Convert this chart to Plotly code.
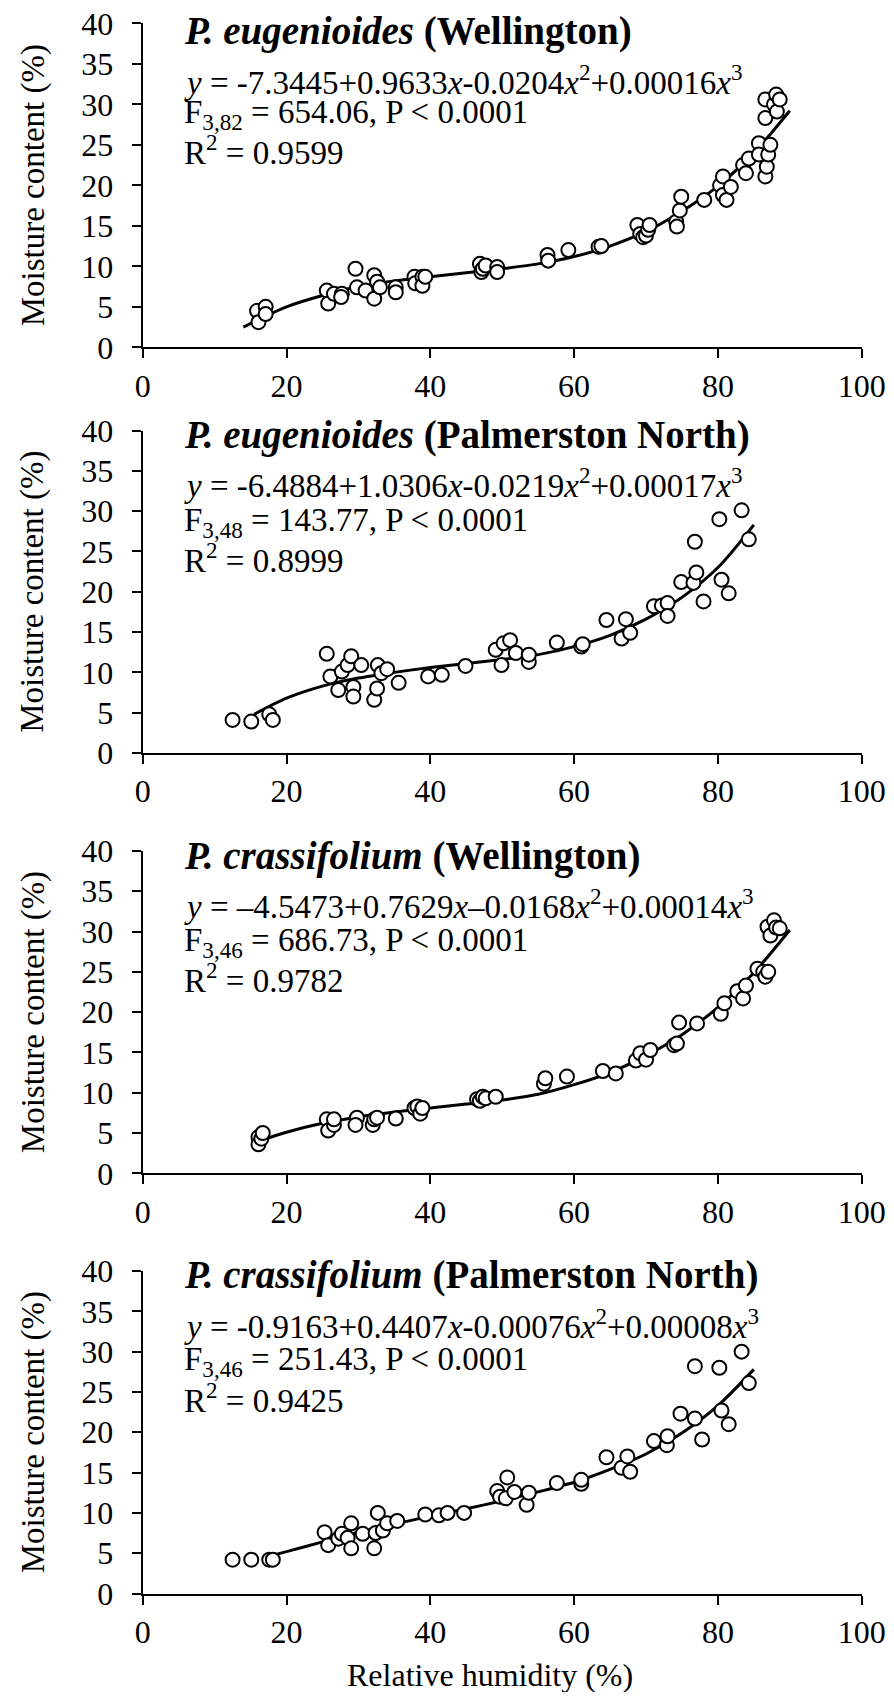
import plotly.graph_objects as go

# ---------------- data ----------------
# Panel 1: P. eugenioides (Wellington)
rh_1 = [15.9, 16.1, 17.1, 17.1, 25.6, 25.8, 26.6, 27.7, 27.6, 29.6, 29.8, 31.0, 32.2, 32.2, 32.6, 33.0,
        35.2, 35.2, 37.8, 37.9, 38.9, 38.9, 39.3, 46.9, 47.1, 47.3, 47.7, 49.3, 49.3, 56.3, 56.4, 59.2,
        63.4, 63.8, 68.8, 69.2, 69.6, 70.0, 70.3, 70.5, 74.2, 74.3, 74.7, 74.9, 78.1, 80.3, 80.7, 80.7,
        81.2, 81.8, 83.5, 83.9, 84.3, 85.7, 85.7, 86.6, 86.8, 87.0, 87.3, 86.6, 86.6, 87.8, 88.1, 88.2, 88.6]
mc_1 = [4.5, 3.1, 5.0, 4.1, 7.0, 5.4, 6.6, 6.6, 6.2, 9.7, 7.4, 7.0, 8.9, 6.0, 8.1, 7.4,
        7.4, 6.8, 8.7, 7.9, 8.7, 7.6, 8.7, 10.3, 9.3, 9.7, 10.1, 9.9, 9.3, 11.4, 10.7, 12.0,
        12.4, 12.5, 15.1, 14.0, 13.6, 13.8, 14.5, 15.1, 15.5, 14.9, 16.9, 18.6, 18.2, 20.0, 21.1, 18.8,
        18.2, 19.8, 22.5, 21.5, 23.3, 25.2, 23.8, 21.1, 22.3, 23.8, 25.0, 30.6, 28.3, 30.0, 31.2, 29.1, 30.6]
fit_x_1 = [14, 20, 25, 30, 35, 40, 45, 50, 55, 60, 65, 70, 75, 80, 85, 90]
fit_y_1 = [2.5, 5.0, 6.4, 7.5, 8.2, 8.7, 9.2, 9.7, 10.3, 11.2, 12.5, 14.3, 16.8, 19.9, 24.0, 29.2]

# Panel 2: P. eugenioides (Palmerston North)
rh_2 = [12.5, 15.1, 17.6, 18.1, 25.6, 26.1, 27.2, 27.7, 28.5, 29.0, 29.3, 29.3, 30.4, 32.2, 32.6, 32.7,
        33.2, 34.0, 35.6, 39.7, 41.6, 44.9, 49.1, 49.9, 50.2, 51.1, 51.9, 53.7, 53.7, 57.6, 61.0, 61.2,
        64.5, 66.6, 67.2, 67.8, 71.1, 72.2, 73.0, 73.0, 74.9, 76.6, 76.8, 77.0, 78.0, 80.2, 80.5, 81.5,
        83.3, 84.3]
mc_2 = [4.1, 3.9, 4.8, 4.1, 12.3, 9.5, 7.8, 10.1, 10.9, 12.0, 8.2, 7.0, 10.9, 6.6, 8.0, 10.9,
        9.9, 10.4, 8.7, 9.5, 9.7, 10.8, 12.8, 10.9, 13.6, 14.0, 12.4, 11.3, 12.2, 13.7, 13.2, 13.5,
        16.5, 14.2, 16.6, 14.9, 18.2, 18.3, 18.6, 17.0, 21.2, 21.1, 26.2, 22.4, 18.8, 29.0, 21.5, 19.8,
        30.1, 26.5]
fit_x_2 = [15.5, 20, 25, 30, 35, 40, 45, 50, 55, 60, 65, 70, 75, 80, 85]
fit_y_2 = [4.8, 6.8, 8.3, 9.3, 10.0, 10.6, 11.1, 11.6, 12.2, 13.2, 14.6, 16.6, 19.3, 23.0, 28.3]

# Panel 3: P. crassifolium (Wellington)
rh_3 = [16.1, 16.1, 16.5, 16.7, 25.6, 25.8, 26.6, 26.6, 29.8, 29.6, 32.0, 32.2, 32.6, 35.2, 37.8, 38.2,
        38.6, 38.9, 46.5, 46.9, 47.3, 47.7, 49.1, 55.8, 56.0, 59.0, 64.0, 65.8, 68.6, 69.2, 70.0, 70.6,
        73.9, 74.3, 74.6, 77.1, 80.4, 80.9, 82.7, 83.5, 83.9, 85.5, 86.3, 86.6, 87.0, 86.9, 87.3, 87.8,
        88.1, 88.6]
mc_3 = [4.5, 3.6, 4.3, 5.0, 6.7, 5.3, 6.0, 6.7, 6.9, 6.0, 6.0, 6.7, 6.9, 6.8, 8.1, 8.3,
        7.4, 8.1, 9.2, 9.0, 9.5, 9.3, 9.5, 11.1, 11.8, 12.0, 12.7, 12.4, 14.0, 14.9, 14.1, 15.3,
        15.9, 16.1, 18.7, 18.6, 19.8, 21.1, 22.6, 21.7, 23.3, 25.4, 25.0, 24.4, 25.0, 30.6, 29.5, 31.4,
        30.5, 30.4]
fit_x_3 = [16.5, 20, 25, 30, 35, 40, 45, 50, 55, 60, 65, 70, 75, 80, 85, 90]
fit_y_3 = [4.1, 5.1, 6.2, 7.0, 7.6, 8.1, 8.6, 9.1, 9.8, 11.0, 12.5, 14.6, 17.2, 20.6, 24.9, 30.2]

# Panel 4: P. crassifolium (Palmerston North)
rh_4 = [12.5, 15.1, 17.6, 18.1, 25.3, 25.8, 27.2, 27.7, 28.5, 29.0, 29.0, 30.6, 32.2, 32.4, 32.7, 33.4,
        34.0, 35.4, 39.3, 41.2, 42.4, 44.7, 49.3, 49.7, 50.5, 50.7, 51.7, 53.4, 53.7, 57.6, 61.0, 61.0,
        64.5, 66.6, 67.4, 67.8, 71.1, 72.9, 73.0, 74.8, 76.8, 76.8, 77.8, 80.2, 80.5, 81.5, 83.3, 84.3]
mc_4 = [4.2, 4.2, 4.2, 4.2, 7.6, 6.0, 6.8, 7.4, 6.9, 8.7, 5.6, 7.4, 5.6, 7.5, 10.0, 7.8,
        8.7, 9.0, 9.8, 9.7, 10.0, 10.0, 12.7, 12.0, 11.8, 14.4, 12.6, 11.0, 12.5, 13.7, 13.6, 14.1,
        16.9, 15.6, 17.0, 15.1, 18.9, 18.4, 19.5, 22.3, 21.7, 28.2, 19.1, 28.0, 22.7, 21.0, 30.0, 26.1]
fit_x_4 = [17.5, 20, 25, 30, 35, 40, 45, 50, 55, 60, 65, 70, 75, 80, 85]
fit_y_4 = [4.6, 5.2, 6.4, 7.6, 8.6, 9.6, 10.5, 11.5, 12.6, 13.8, 15.4, 17.3, 19.9, 23.3, 27.8]

titles = ["<b><i>P. eugenioides</i> (Wellington)</b>",
          "<b><i>P. eugenioides</i> (Palmerston North)</b>",
          "<b><i>P. crassifolium</i> (Wellington)</b>",
          "<b><i>P. crassifolium</i> (Palmerston North)</b>"]
equations = ["<i>y</i> = -7.3445+0.9633<i>x</i>-0.0204<i>x</i><sup>2</sup>+0.00016<i>x</i><sup>3</sup>",
             "<i>y</i> = -6.4884+1.0306<i>x</i>-0.0219<i>x</i><sup>2</sup>+0.00017<i>x</i><sup>3</sup>",
             "<i>y</i> = \u20134.5473+0.7629<i>x</i>\u20130.0168<i>x</i><sup>2</sup>+0.00014<i>x</i><sup>3</sup>",
             "<i>y</i> = -0.9163+0.4407<i>x</i>-0.00076<i>x</i><sup>2</sup>+0.00008<i>x</i><sup>3</sup>"]
f_stats = ["F<sub>3,82</sub> = 654.06, P &lt; 0.0001",
           "F<sub>3,48</sub> = 143.77, P &lt; 0.0001",
           "F<sub>3,46</sub> = 686.73, P &lt; 0.0001",
           "F<sub>3,46</sub> = 251.43, P &lt; 0.0001"]
r2_stats = ["R<sup>2</sup> = 0.9599", "R<sup>2</sup> = 0.8999", "R<sup>2</sup> = 0.9782", "R<sup>2</sup> = 0.9425"]

x_ticks = [0, 20, 40, 60, 80, 100]
y_ticks = [0, 5, 10, 15, 20, 25, 30, 35, 40]
x_title = "Relative humidity (%)"
y_title = "Moisture content (%)"

# ---------------- layout geometry ----------------
# positions below are in browser-window pixels; the page body has an 8 px margin
PAGE_OFF = 8
W, H = 878, 1684
FONT = "Liberation Serif, Times New Roman, serif"
panel_px = [(23.3, 347.3), (430.5, 753.0), (851.0, 1173.3), (1271.0, 1593.5)]
x_left_px, x_right_px = 142.7, 861.7
text_off = [(8, 57, 91, 127), (5, 53, 91.5, 127.5), (5, 53, 91.5, 127.5), (4, 53, 90.8, 126.7)]


def px_x(v):
    return (v - PAGE_OFF) / W


def px_y(v):
    return 1 - (v - PAGE_OFF) / H


xs = [rh_1, rh_2, rh_3, rh_4]
ys = [mc_1, mc_2, mc_3, mc_4]
fxs = [fit_x_1, fit_x_2, fit_x_3, fit_x_4]
fys = [fit_y_1, fit_y_2, fit_y_3, fit_y_4]

fig = go.Figure()
annotations = []
layout_axes = {}
for i in range(4):
    n = "" if i == 0 else str(i + 1)
    xa, ya = "x" + n, "y" + n
    top, bot = panel_px[i]
    fig.add_trace(go.Scatter(x=fxs[i], y=fys[i], mode="lines", xaxis=xa, yaxis=ya,
                             line=dict(color="black", width=3, shape="spline", smoothing=0.8),
                             showlegend=False, hoverinfo="skip"))
    fig.add_trace(go.Scatter(x=xs[i], y=ys[i], mode="markers", xaxis=xa, yaxis=ya,
                             marker=dict(symbol="circle", size=14, color="white",
                                         line=dict(color="black", width=2)),
                             showlegend=False))
    common = dict(showgrid=False, zeroline=False, showline=True, linecolor="black", linewidth=2,
                  ticks="outside", ticklen=9, tickwidth=2, tickcolor="black", automargin=False,
                  ticklabeloverflow="allow",
                  tickfont=dict(family=FONT, size=32, color="black"))
    layout_axes["xaxis" + n] = dict(common, range=[0, 100], tickvals=x_ticks, anchor=ya,
                                    domain=[px_x(x_left_px), px_x(x_right_px)], ticklabelstandoff=0)
    layout_axes["yaxis" + n] = dict(common, range=[0, 40], tickvals=y_ticks, anchor=xa,
                                    domain=[px_y(bot), px_y(top)], ticklabelstandoff=12)
    px_per = (bot - top) / 40.0
    to = text_off[i]
    x_text = (181.7 - x_left_px) / ((x_right_px - x_left_px) / 100.0)
    for txt, off, size in [(titles[i], to[0], 39), (equations[i], to[1], 33),
                           (f_stats[i], to[2], 33), (r2_stats[i], to[3], 33)]:
        annotations.append(dict(text=txt, x=x_text, y=40 - off / px_per, xref=xa, yref=ya,
                                xanchor="left", yanchor="middle", showarrow=False,
                                font=dict(family=FONT, size=size, color="black")))
    annotations.append(dict(text=y_title, x=px_x(33), y=px_y((top + bot) / 2), xref="paper",
                            yref="paper", textangle=-90, xanchor="center", yanchor="middle",
                            showarrow=False, font=dict(family=FONT, size=33, color="black")))

annotations.append(dict(text=x_title, x=px_x(490), y=px_y(1675), xref="paper", yref="paper",
                        xanchor="center", yanchor="middle", showarrow=False,
                        font=dict(family=FONT, size=32, color="black")))

fig.update_layout(width=W, height=H, margin=dict(l=0, r=0, t=0, b=0, autoexpand=False),
                  paper_bgcolor="white", plot_bgcolor="white",
                  annotations=annotations, **layout_axes)
fig.write_html("out.html")
